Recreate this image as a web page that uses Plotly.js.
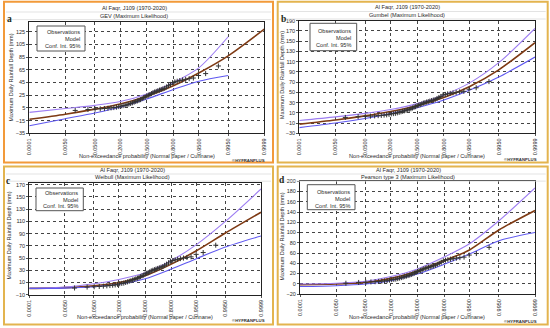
<!DOCTYPE html>
<html><head><meta charset="utf-8">
<script src="https://cdn.plot.ly/plotly-3.0.1.min.js"></script>
<style>html,body{margin:0;padding:0;background:#fff}#chart{width:550px;height:328px}</style>
</head><body><div id="chart"></div>
<script>
// ---------------- DATA ----------------
const panelLetters = ['a', 'b', 'c', 'd'];
const stationTitle = 'Al Faqr, J109 (1970-2020)';
const methodTitles = ['GEV (Maximum Likelihood)', 'Gumbel (Maximum Likelihood)',
  'Weibull (Maximum Likelihood)', 'Pearson type 3 (Maximum Likelihood)'];
const yTitle = 'Maximum Daily Rainfall Depth (mm)';
const xTitle = 'Non-exceedance probability (Normal paper / Cunnane)';
const legendLines = ['Observations', 'Model', 'Conf. Int. 95%'];
const credit = '©HYFRANPLUS';

const tickProbs = [0.0001, 0.005, 0.05, 0.2, 0.5, 0.8, 0.95, 0.995, 0.9999];
const tickLabels = ['0.0001', '0.0050', '0.0500', '0.2000', '0.5000', '0.8000', '0.9500', '0.9950', '0.9999'];

// curves read at the tick probabilities
const curveProbs = [0.0001, 0.005, 0.05, 0.2, 0.5, 0.8, 0.95, 0.995, 0.9999];
const gevModel = [-13, -5, 3, 11, 23.5, 40, 60, 87, 129];
const gevUpper = [-2, 4, 9, 15, 27, 45, 68, 117];
const gevLower = [-23, -12, -3, 6, 19, 34, 47, 56];
const gumModel = [-12, -4, 4, 12.5, 24, 40, 61, 94, 147];
const gumUpper = [-5, 2, 9, 16.5, 28, 45, 68, 108, 175];
const gumLower = [-19, -10, -1, 8.5, 20, 35, 54, 80, 119];
const weiModel = [0.3, 1.5, 4.5, 10, 21, 40, 62, 91, 125];
const weiUpper = [0.3, 2.5, 8, 15, 26, 46, 72, 110, 163];
const weiLower = [0.3, 0.8, 3, 7, 16, 32, 49, 68, 86];
const p3Model = [-1.8, -0.5, 2.7, 10.5, 25, 45, 66, 105, 143];
const p3Upper = [-0.5, 1, 5, 14, 29, 52, 78, 123, 187];
const p3Lower = [-5.5, -3.8, -0.5, 6, 19, 38, 58, 84, 100];

// observations (sorted) with Cunnane plotting positions
const obsProbs = [0.01172, 0.03125, 0.05078, 0.07031, 0.08984, 0.10938, 0.12891, 0.14844, 0.16797, 0.1875,
  0.20703, 0.22656, 0.24609, 0.26563, 0.28516, 0.30469, 0.32422, 0.34375, 0.36328, 0.38281,
  0.40234, 0.42188, 0.44141, 0.46094, 0.48047, 0.5, 0.51953, 0.53906, 0.55859, 0.57813,
  0.59766, 0.61719, 0.63672, 0.65625, 0.67578, 0.69531, 0.71484, 0.73438, 0.75391, 0.77344,
  0.79297, 0.8125, 0.83203, 0.85156, 0.87109, 0.89063, 0.91016, 0.92969, 0.94922, 0.96875, 0.98828];
const obsDepth = [1, 2.5, 3, 3.5, 4, 4.5, 5, 5.5, 6, 7, 8, 8.5, 9, 10, 11, 12, 13, 14, 15, 16,
  17, 18, 19.5, 21, 22, 24, 25, 26, 27.5, 29, 30, 31, 32, 33, 34, 35, 36, 38, 40, 42,
  45, 46, 47, 48, 49, 50, 51, 52, 56, 59, 71];

// ---------------- HELPERS ----------------
function norminv(p) { // Acklam inverse normal CDF (normal-paper scale)
  const a = [-3.969683028665376e+01, 2.209460984245205e+02, -2.759285104469687e+02, 1.383577518672690e+02, -3.066479806614716e+01, 2.506628277459239e+00];
  const b = [-5.447609879822406e+01, 1.615858368580409e+02, -1.556989798598866e+02, 6.680131188771972e+01, -1.328068155288572e+01];
  const c = [-7.784894002430293e-03, -3.223964580411365e-01, -2.400758277161838e+00, -2.549732539343734e+00, 4.374664141464968e+00, 2.938163982698783e+00];
  const d = [7.784695709041462e-03, 3.224671290700398e-01, 2.445134137142996e+00, 3.754408661907416e+00];
  const pl = 0.02425, ph = 1 - pl;
  let q, r;
  if (p < pl) { q = Math.sqrt(-2 * Math.log(p));
    return (((((c[0]*q+c[1])*q+c[2])*q+c[3])*q+c[4])*q+c[5]) / ((((d[0]*q+d[1])*q+d[2])*q+d[3])*q+1); }
  if (p <= ph) { q = p - 0.5; r = q*q;
    return (((((a[0]*r+a[1])*r+a[2])*r+a[3])*r+a[4])*r+a[5])*q / (((((b[0]*r+b[1])*r+b[2])*r+b[3])*r+b[4])*r+1); }
  q = Math.sqrt(-2 * Math.log(1 - p));
  return -(((((c[0]*q+c[1])*q+c[2])*q+c[3])*q+c[4])*q+c[5]) / ((((d[0]*q+d[1])*q+d[2])*q+d[3])*q+1);
}
const W = 550, H = 328;
const px = x => x / W;
const py = y => 1 - y / H;
const FONT = 'Liberation Sans, Arial, sans-serif';
const TXT = '#2a2a2a';
const zRange = [norminv(tickProbs[0]), norminv(tickProbs[tickProbs.length - 1])];

// panel geometry (pixels)
const panels = [
  { box: [4, 1.7, 273, 162.5], border: '#f29a3a', plot: [29.3, 21.7, 264.3, 133.3], yr: [-35, 140.7], t0: -35,
    tcx: 134, t1: 8, t2: 15.8, letter: [9.5, 19], ytx: 10, ytc: 77.5, xty: 156, cr: [249, 160.3],
    leg: [37, 26, 85, 51], legR: 82, legY: [32.3, 38.8, 45.6],
    model: gevModel, upper: gevUpper, lower: gevLower },
  { box: [277.7, 1.7, 547.7, 162.5], border: '#e3b44f', plot: [299.3, 20.7, 535, 133.3], yr: [-30, 190], t0: -30,
    tcx: 407, t1: 7.5, t2: 15.2, letter: [283.3, 19], ytx: 282, ytc: 75, xty: 155.5, cr: [520, 159.5],
    leg: [310, 23.3, 356.7, 50.7], legR: 353, legY: [31, 37.8, 45],
    model: gumModel, upper: gumUpper, lower: gumLower },
  { box: [4, 166.5, 273, 324.5], border: '#e3b44f', plot: [29.3, 182.7, 261, 294.7], yr: [-10, 173.3], t0: -10,
    tcx: 132, t1: 170, t2: 177.4, letter: [8, 181], ytx: 8.5, ytc: 236, xty: 317.3, cr: [248, 320.7],
    leg: [36, 188, 83.3, 210.7], legR: 80, legY: [193, 199.7, 206.3],
    model: weiModel, upper: weiUpper, lower: weiLower },
  { box: [277.7, 166.5, 547.7, 324.5], border: '#e3b44f', plot: [300, 181.3, 535, 294], yr: [-20, 200], t0: -20,
    tcx: 408, t1: 170, t2: 177.3, letter: [281.5, 180], ytx: 281, ytc: 236.5, xty: 316.7, cr: [520, 321.5],
    leg: [307.3, 184.7, 355, 209.7], legR: 351.5, legY: [192.3, 198.8, 206.3],
    model: p3Model, upper: p3Upper, lower: p3Lower }
];

const traces = [], shapes = [], annotations = [];
const layout = {
  width: W, height: H, margin: { l: 0, r: 0, t: 0, b: 0 },
  paper_bgcolor: '#fff', plot_bgcolor: '#fff', showlegend: false,
  font: { family: FONT, size: 5.5, color: TXT }
};

panels.forEach((P, i) => {
  const k = i === 0 ? '' : String(i + 1);
  const xa = 'x' + k, ya = 'y' + k;
  layout['xaxis' + k] = {
    domain: [px(P.plot[0]), px(P.plot[2])], anchor: ya, range: zRange,
    tickmode: 'array', tickvals: tickProbs.map(norminv), ticktext: tickLabels, tickangle: -90,
    tickfont: { family: FONT, size: 5.5, color: TXT },
    showgrid: true, gridcolor: '#444', griddash: 'dot', gridwidth: 1,
    showline: true, mirror: true, linecolor: '#222', linewidth: 1,
    ticks: 'outside', ticklen: 2, tickcolor: '#555', zeroline: false, fixedrange: true
  };
  layout['yaxis' + k] = {
    domain: [py(P.plot[3]), py(P.plot[1])], anchor: xa, range: P.yr,
    tick0: P.t0, dtick: 20, tickfont: { family: FONT, size: 5.5, color: TXT },
    showgrid: true, gridcolor: '#444', griddash: 'dot', gridwidth: 1,
    showline: true, mirror: true, linecolor: '#222', linewidth: 1,
    ticks: 'outside', ticklen: 2, tickcolor: '#555', zeroline: false, fixedrange: true
  };
  // model
  traces.push({ type: 'scatter', mode: 'lines', xaxis: xa, yaxis: ya,
    x: curveProbs.slice(0, P.model.length).map(norminv), y: P.model,
    line: { color: '#7e3a14', width: 1.6, shape: 'spline', smoothing: 0.8 } });
  // confidence interval
  traces.push({ type: 'scatter', mode: 'lines', xaxis: xa, yaxis: ya,
    x: curveProbs.slice(0, P.upper.length).map(norminv), y: P.upper,
    line: { color: '#9d7df2', width: 1.1, shape: 'spline', smoothing: 0.8 } });
  traces.push({ type: 'scatter', mode: 'lines', xaxis: xa, yaxis: ya,
    x: curveProbs.slice(0, P.lower.length).map(norminv), y: P.lower,
    line: { color: '#5f58f0', width: 1.1, shape: 'spline', smoothing: 0.8 } });
  // observations
  traces.push({ type: 'scatter', mode: 'markers', xaxis: xa, yaxis: ya,
    x: obsProbs.map(norminv), y: obsDepth,
    marker: { symbol: 'cross-thin-open', size: 3.6, color: '#333', line: { width: 1, color: '#333' } } });

  // panel border
  shapes.push({ type: 'rect', xref: 'paper', yref: 'paper',
    x0: px(P.box[0]), x1: px(P.box[2]), y0: py(P.box[3]), y1: py(P.box[1]),
    line: { color: P.border, width: 2 } });
  // header separator lines
  [P.t1 + 4, P.t2 + 3.8].forEach(yy => shapes.push({ type: 'line', xref: 'paper', yref: 'paper',
    x0: px(P.box[0] + 2), x1: px(P.box[2] - 2), y0: py(yy), y1: py(yy),
    line: { color: '#dcdcdc', width: 0.8 } }));
  // legend box
  shapes.push({ type: 'rect', xref: 'paper', yref: 'paper',
    x0: px(P.leg[0]), x1: px(P.leg[2]), y0: py(P.leg[3]), y1: py(P.leg[1]),
    fillcolor: '#fff', line: { color: '#555', width: 1 }, layer: 'above' });
  legendLines.forEach((t, j) => annotations.push({ xref: 'paper', yref: 'paper',
    x: px(P.legR), y: py(P.legY[j]), xanchor: 'right', yanchor: 'middle', showarrow: false,
    text: t, font: { family: FONT, size: 5.6, color: TXT } }));
  // titles
  annotations.push({ xref: 'paper', yref: 'paper', x: px(P.tcx), y: py(P.t1), xanchor: 'center', yanchor: 'middle',
    showarrow: false, text: stationTitle, font: { family: FONT, size: 5.6, color: TXT } });
  annotations.push({ xref: 'paper', yref: 'paper', x: px(P.tcx), y: py(P.t2), xanchor: 'center', yanchor: 'middle',
    showarrow: false, text: methodTitles[i], font: { family: FONT, size: 5.6, color: TXT } });
  // panel letter
  annotations.push({ xref: 'paper', yref: 'paper', x: px(P.letter[0]), y: py(P.letter[1]), xanchor: 'center', yanchor: 'middle',
    showarrow: false, text: '<b>' + panelLetters[i] + '</b>',
    font: { family: 'Liberation Serif, DejaVu Serif, serif', size: 9.5, color: '#1e2b16' } });
  // axis titles
  annotations.push({ xref: 'paper', yref: 'paper', x: px(P.ytx), y: py(P.ytc), xanchor: 'center', yanchor: 'middle',
    showarrow: false, textangle: -90, text: yTitle, font: { family: FONT, size: 5.5, color: TXT } });
  annotations.push({ xref: 'paper', yref: 'paper', x: px((P.plot[0] + P.plot[2]) / 2), y: py(P.xty),
    xanchor: 'center', yanchor: 'middle', showarrow: false, text: xTitle,
    font: { family: FONT, size: 5.6, color: TXT } });
  annotations.push({ xref: 'paper', yref: 'paper', x: px(P.cr[0]), y: py(P.cr[1]), xanchor: 'center', yanchor: 'middle',
    showarrow: false, text: '<b>' + credit + '</b>', font: { family: FONT, size: 4.3, color: '#333' } });
});

layout.shapes = shapes;
layout.annotations = annotations;
Plotly.newPlot('chart', traces, layout, { displayModeBar: false, staticPlot: true });
</script>
</body></html>
